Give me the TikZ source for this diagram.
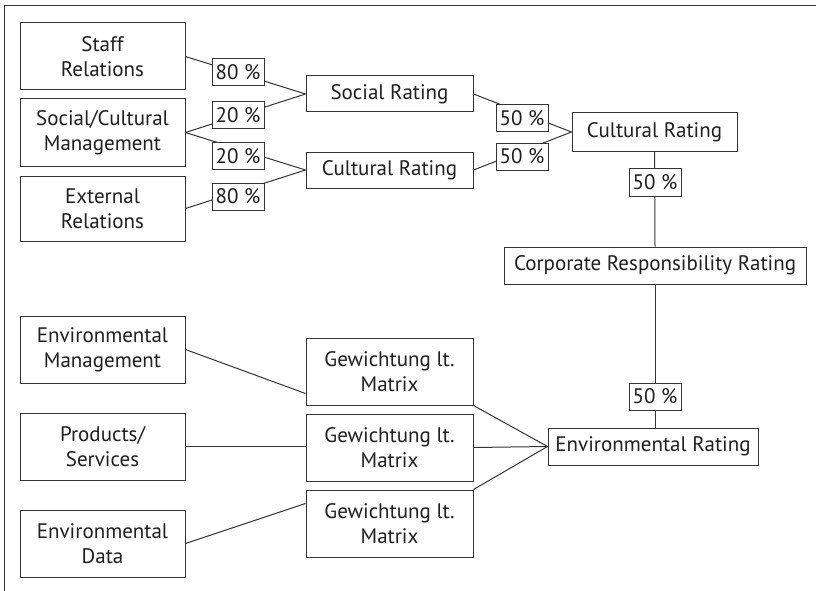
\documentclass[tikz,border=0pt]{standalone}
\usepackage{fontspec}
\setmainfont{PT Sans}
\begin{document}
\begin{tikzpicture}[x=1pt,y=-1pt,
  every node/.style={font=\fontsize{21}{25}\selectfont, text=black!88},
  box/.style={draw=black!80, line width=1pt, fill=white, inner sep=0pt, align=center},
  lbox/.style={box, minimum width=165pt, minimum height=67pt},
  mbox/.style={box, minimum width=167pt, minimum height=67pt},
  rbox/.style={box, minimum width=167pt, minimum height=36pt},
  pct/.style={box, minimum width=52pt, minimum height=27pt},
  conn/.style={draw=black!80, line width=1pt}]
\useasboundingbox (0,0) rectangle (816,591);
\draw[conn] (4,591) -- (4,6) -- (816,6);
% left column
\node[lbox] (staff) at (102.5,56.5) {Staff\\Relations};
\node[lbox] (scm) at (102.5,132.5) {Social/Cultural\\Management};
\node[lbox, minimum height=65pt] (ext) at (102.5,208.5) {External\\Relations};
\node[lbox] (envm) at (102.5,349.5) {Environmental\\Management};
\node[lbox] (prod) at (102.5,446.5) {Products/\\Services};
\node[lbox] (envd) at (102.5,543.5) {Environmental\\Data};
% middle column
\node[rbox] (social) at (389.5,94) {Social Rating};
\node[rbox] (cultl) at (389.5,170) {Cultural Rating};
\node[mbox] (gw1) at (389.5,371.5) {Gewichtung lt.\\Matrix};
\node[mbox] (gw2) at (389.5,447.5) {Gewichtung lt.\\Matrix};
\node[mbox] (gw3) at (389.5,523.5) {Gewichtung lt.\\Matrix};
% right column
\node[box, minimum width=165pt, minimum height=38pt] (cultr) at (654.5,132) {Cultural Rating};
\node[box, minimum width=302pt, minimum height=37pt] (corp) at (655,265.5) {Corporate Responsibility Rating};
\node[box, minimum width=210pt, minimum height=37pt] (env) at (653,446.5) {Environmental Rating};
% connectors
\draw[conn] (staff.east) -- (social.west);
\draw[conn] (scm.east) -- (social.west);
\draw[conn] (scm.east) -- (cultl.west);
\draw[conn] (ext.east) -- (cultl.west);
\draw[conn] (social.east) -- (cultr.west);
\draw[conn] (cultl.east) -- (cultr.west);
\draw[conn] (cultr.south) -- (corp.north);
\draw[conn] (corp.south) -- (corp.south |- env.north);
\draw[conn] (envm.east) -- ([yshift=12pt]gw1.south west);
\draw[conn] (prod.east) -- (prod.east -| gw2.west);
\draw[conn] (envd.east) -- ([yshift=-14pt]gw3.north west);
\draw[conn] (gw1.south east) -- (env.west);
\draw[conn] (gw2.east) -- (env.west);
\draw[conn] (gw3.north east) -- (env.west);
% percentage labels
\node[pct] (p1) at (238,72.5) {80 \%};
\node[pct] (p2) at (238,115.5) {20 \%};
\node[pct] (p3) at (238,156) {20 \%};
\node[pct] (p4) at (238,196.5) {80 \%};
\node[pct] (p5) at (522,118) {50 \%};
\node[pct] (p6) at (522,156.5) {50 \%};
\node[pct, minimum height=28pt] (p7) at (655,182) {50 \%};
\node[pct] (p8) at (655,396.5) {50 \%};
\end{tikzpicture}
\end{document}
